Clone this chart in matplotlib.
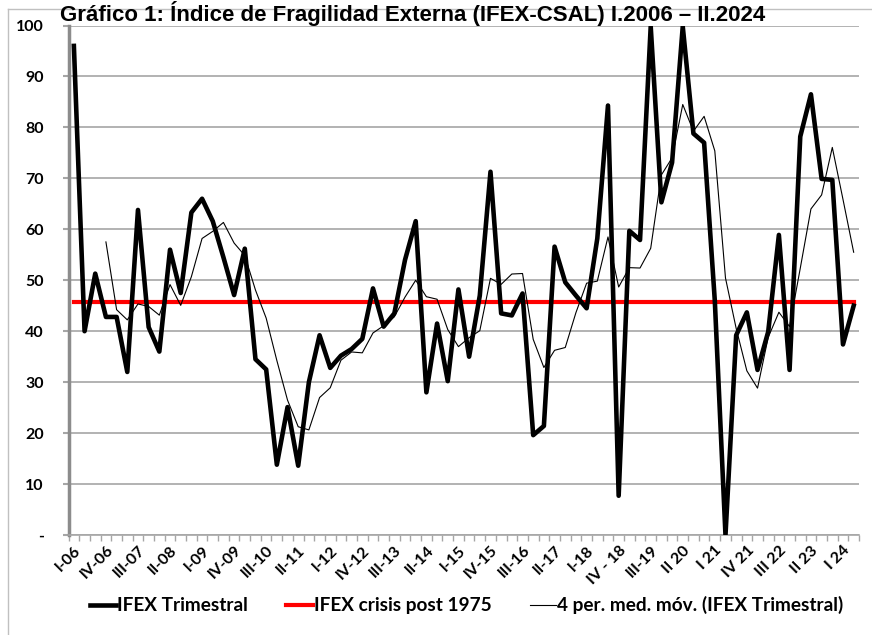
import matplotlib
matplotlib.use("Agg")
import matplotlib.pyplot as plt
import pandas as pd
from matplotlib.lines import Line2D

# datos trimestrales I-06 ... II-24
ifex = [96, 40, 51.3, 42.8, 42.8, 32, 63.8, 40.8, 36, 56,
        47.5, 63.3, 66, 61.6, 54.5, 47.1, 56.2, 34.5, 32.5, 13.8,
        25.1, 13.6, 30, 39.2, 32.8, 35.2, 36.5, 38.5, 48.4, 40.9,
        43.5, 54, 61.6, 28, 41.5, 30.2, 48.2, 35, 47, 71.3,
        43.5, 43.1, 47.4, 19.6, 21.4, 56.6, 49.6, 47, 44.5, 58.2,
        84.3, 7.7, 59.7, 57.9, 99.8, 65.3, 73.1, 99.8, 78.8, 77,
        46, 0, 39.2, 43.7, 32.4, 39.9, 58.9, 32.4, 78.2, 86.5,
        69.9, 69.7, 37.4, 45]
crisis = 45.8
tick_labels = ['I-06', 'IV-06', 'III-07', 'II-08', 'I-09', 'IV-09', 'III-10', 'II-11',
               'I-12', 'IV-12', 'III-13', 'II-14', 'I-15', 'IV-15', 'III-16', 'II-17',
               'I-18', 'IV - 18', 'III-19', 'II 20', 'I 21', 'IV 21', 'III 22', 'II 23', 'I 24']
y_ticks = [0, 10, 20, 30, 40, 50, 60, 70, 80, 90, 100]

s = pd.Series(ifex)
media_movil = s.rolling(4).mean()  # línea de tendencia media móvil 4 periodos
x = list(range(len(ifex)))

fig = plt.figure(figsize=(8.72, 6.35), dpi=100)
ax = fig.add_axes([0.0786, 0.1575, 0.9065, 0.8023])

ax.plot(x, ifex, color='black', lw=3.3, label='IFEX Trimestral', zorder=4)
ax.plot(x, [crisis] * len(x), color='#ff0000', lw=3.0, label='IFEX crisis post 1975', zorder=3)
ax.plot(x, media_movil, color='black', lw=0.8, label='4 per. med. móv. (IFEX Trimestral)', zorder=5)

ax.set_xlim(-0.5, len(x) - 0.5)
ax.set_ylim(0, 100)
ax.set_yticks(y_ticks)
ax.set_yticklabels(['-'] + [str(v) for v in y_ticks[1:]])
ax.grid(axis='y', color='#a6a6a6', lw=1.2)
ax.set_axisbelow(True)

ax.set_xticks(range(0, len(x), 3))
ax.set_xticklabels(tick_labels, rotation=45, ha='right', va='top', rotation_mode='anchor')
ax.set_xticks([i - 0.5 for i in range(len(x) + 1)], minor=True)
ax.tick_params(axis='x', which='major', length=0, pad=6)
ax.tick_params(axis='x', which='minor', length=4, color='#a6a6a6', width=1)
ax.tick_params(axis='y', length=4, color='#a6a6a6', width=1.5, pad=14)

for lab in ax.get_xticklabels() + ax.get_yticklabels():
    lab.set_fontfamily('Lato')
    lab.set_fontweight('bold')
    lab.set_fontsize(11.5)

for side in ['top', 'right']:
    ax.spines[side].set_visible(False)
ax.spines['left'].set_color('#8c8c8c')
ax.spines['left'].set_linewidth(2.5)
ax.spines['bottom'].set_color('#a6a6a6')
ax.spines['bottom'].set_linewidth(1.2)

leg = fig.legend(loc='center', bbox_to_anchor=(0.535, 0.047), ncol=3, frameon=False,
                 handlelength=1.4, handletextpad=0.05, columnspacing=2.0,
                 prop={'family': 'Lato', 'weight': 'bold', 'size': 13.7})

# marco del gráfico
fig.add_artist(Line2D([8 / 872, 1], [1 - 9 / 635, 1 - 9 / 635], transform=fig.transFigure, color='#c0c0c0', lw=1))
fig.add_artist(Line2D([8 / 872, 8 / 872], [0, 1 - 9 / 635], transform=fig.transFigure, color='#c0c0c0', lw=1))

fig.text(60 / 872, 1 - 1 / 635, 'Gráfico 1: Índice de Fragilidad Externa (IFEX-CSAL) I.2006 – II.2024',
         ha='left', va='top', fontsize=16, fontweight='bold', family='Liberation Sans')

fig.savefig('out.png', dpi=100)
